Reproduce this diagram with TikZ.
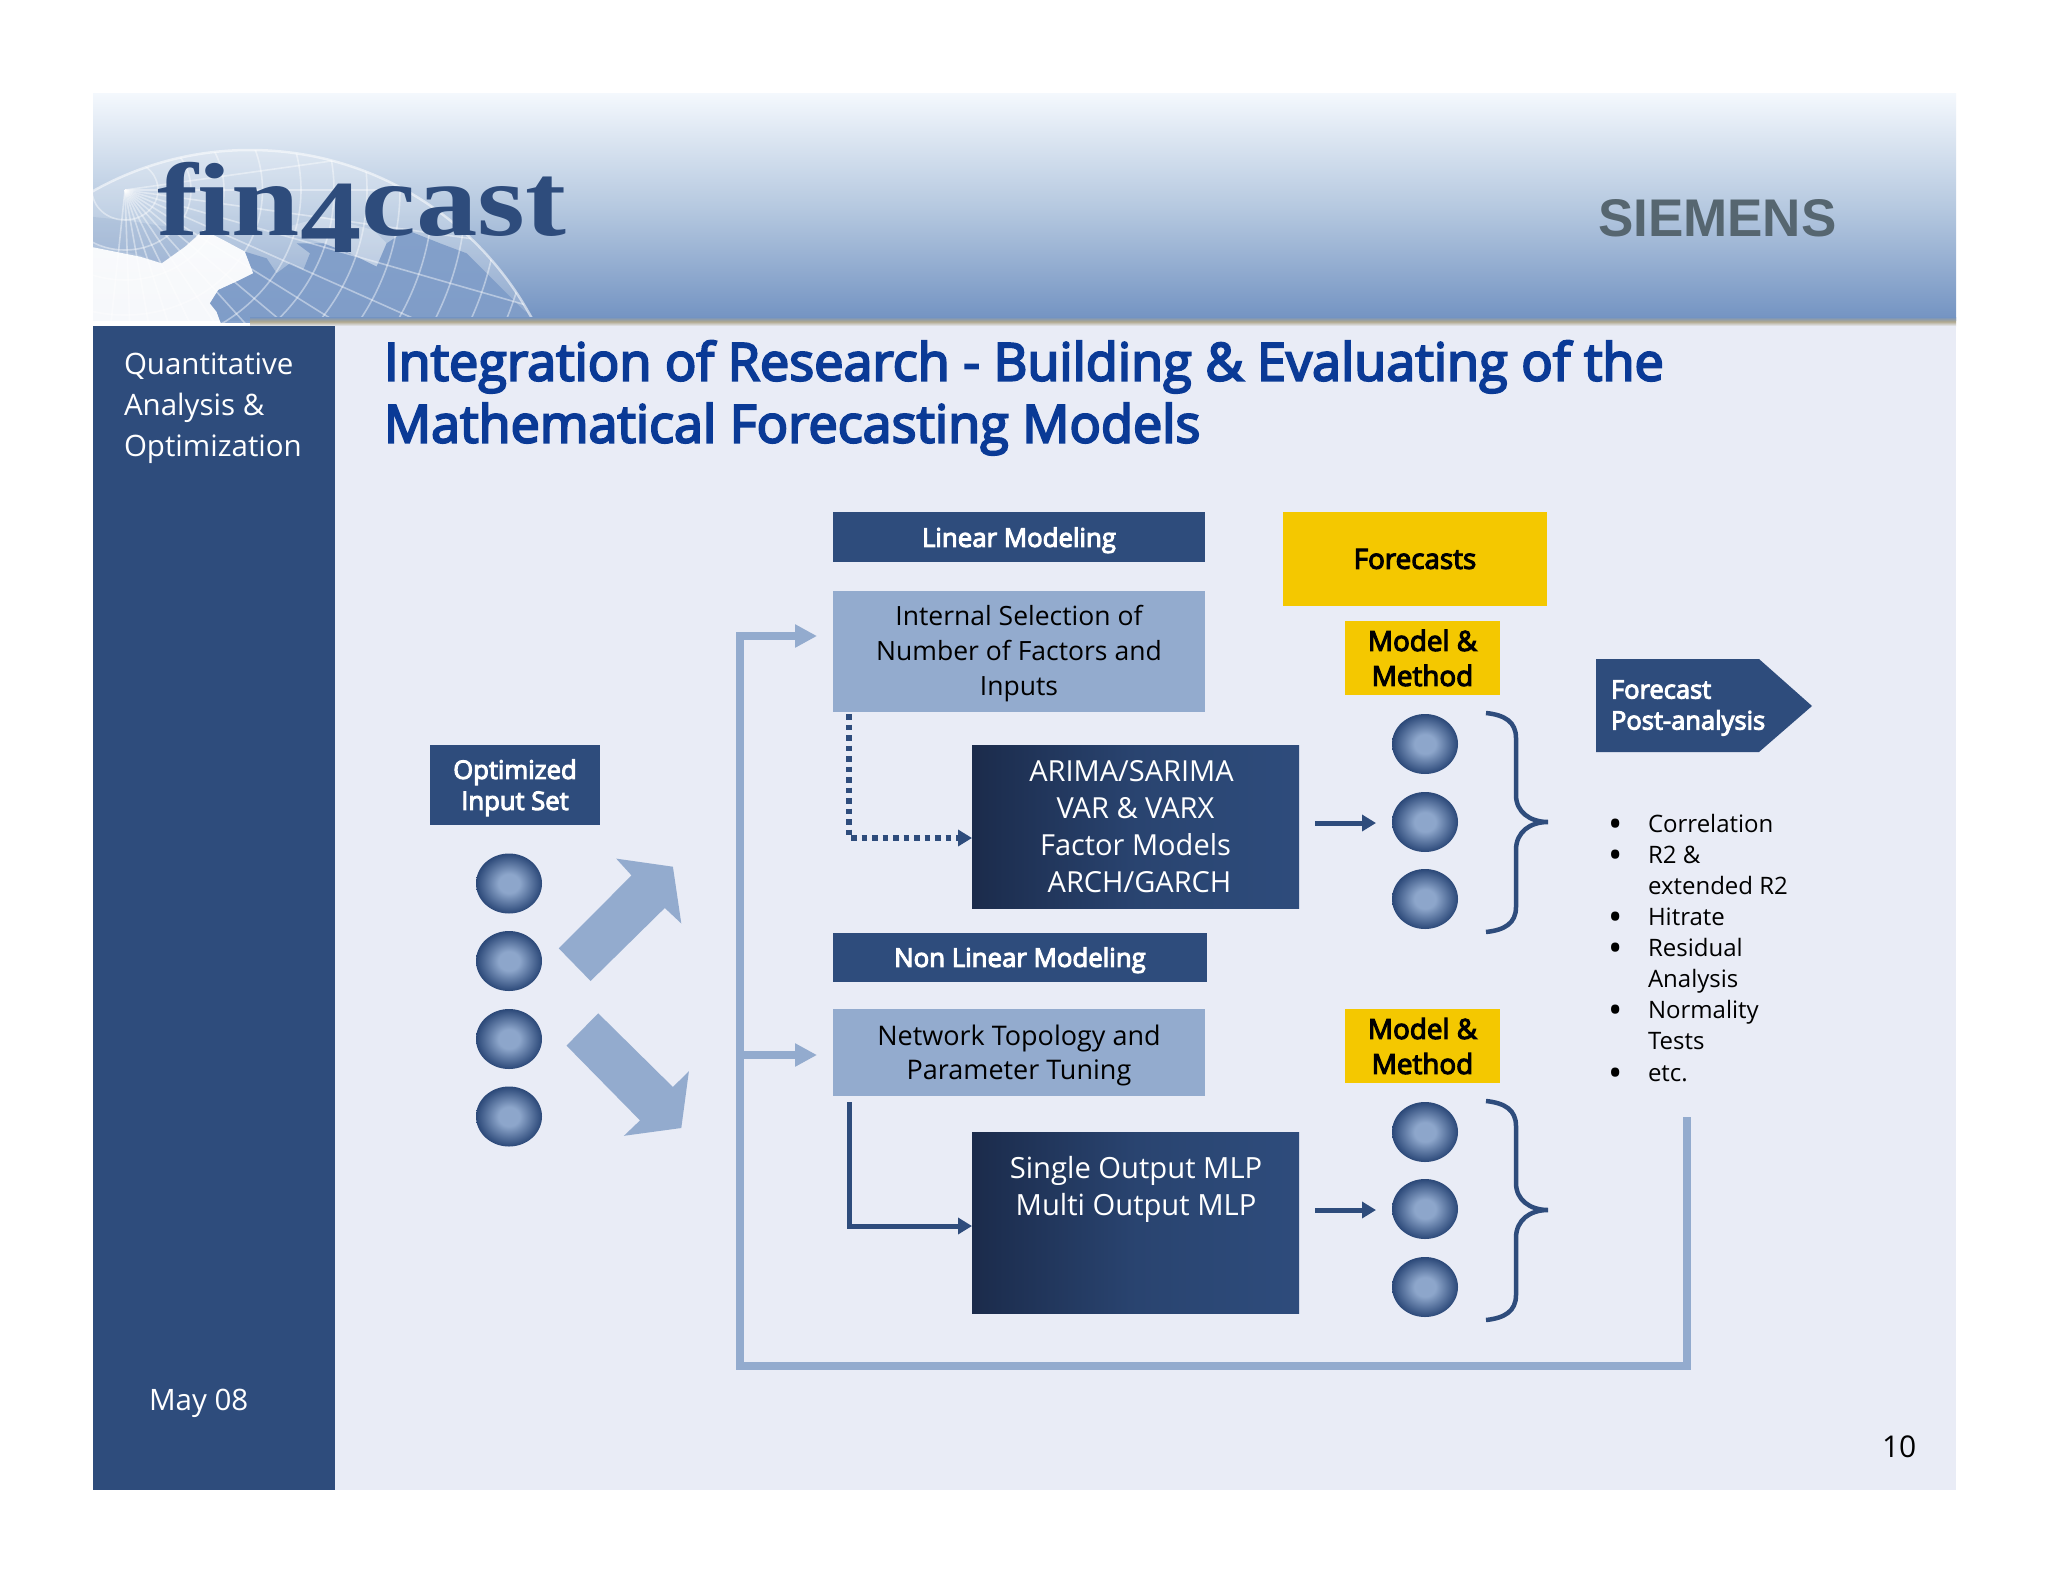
\documentclass[tikz,border=0pt]{standalone}
\usepackage{fontspec}
\setmainfont{Open Sans}
\newfontfamily\semifont[FakeBold=4]{Open Sans}
\newfontfamily\logofont{Liberation Serif}
\newfontfamily\brandfont{Liberation Sans}
\usetikzlibrary{arrows.meta,shapes.geometric,calc}
\definecolor{navy}{HTML}{2E4C7C}
\definecolor{darknavy}{HTML}{1B2B4B}
\definecolor{steel}{HTML}{93ABCE}
\definecolor{pagebg}{HTML}{E9ECF6}
\definecolor{gold}{HTML}{F4C800}
\definecolor{titleblue}{HTML}{0A3A96}
\definecolor{ballin}{HTML}{8DA6CB}
\definecolor{ballout}{HTML}{2B4878}
\definecolor{banTop}{HTML}{F4F8FD}
\definecolor{banMid}{HTML}{B6C9E0}
\definecolor{banBot}{HTML}{7393C2}
\definecolor{landblue}{HTML}{7E9CC8}
\definecolor{brandgray}{HTML}{566670}
\definecolor{tan}{HTML}{B0A88E}
\pgfdeclareradialshading{ballshade}{\pgfpoint{0bp}{0bp}}{color(0bp)=(ballin); color(8bp)=(ballin); color(25bp)=(ballout); color(50bp)=(ballout)}
\newcommand{\sk}[1]{\rule{0pt}{#1pt}}
\tikzset{
  x=1pt,y=-1pt,
  plain/.style={inner sep=0pt,outer sep=0pt,align=center},
  navybox/.style={plain,rectangle,fill=navy,text=white,font=\semifont\fontsize{25.8}{31}\selectfont},
  steelbox/.style={plain,rectangle,fill=steel,text=black},
  darkbox/.style={plain,rectangle,left color=darknavy,right color=navy,text=white,middle color=navy!75!darknavy},
  goldbox/.style={plain,rectangle,fill=gold,text=black,font=\semifont\fontsize{27.8}{35}\selectfont},
  ball/.style={ellipse,inner sep=0pt,outer sep=0pt,minimum width=66pt,minimum height=60pt,shading=ballshade},
  bigarrow/.style={fill=steel},
  feedback/.style={draw=steel,line width=8pt,line join=miter},
  feedtip/.style={-{Triangle[length=22pt,width=22pt]},shorten >=16pt},
  thinarrow/.style={draw=navy,line width=5pt,-{Triangle[length=14pt,width=16pt]}},
  dottedlink/.style={thinarrow,line width=5.5pt,dash pattern=on 5.5pt off 5pt},
  brace/.style={draw=navy,line width=4.5pt,line cap=butt},
  listtext/.style={plain,anchor=base west,align=left,font=\fontsize{24}{31}\selectfont,text=black},
  listbullet/.style={plain,anchor=base,font=\fontsize{38}{38}\selectfont,text=black},
  sidetext/.style={plain,text=white,anchor=base west,font=\fontsize{29.5}{41}\selectfont},
  titletext/.style={plain,anchor=base west,align=left,text=titleblue,font=\semifont\fontsize{52.2}{62}\selectfont},
}
\begin{document}
\begin{tikzpicture}
\useasboundingbox (0,0) rectangle (2048,1582);
\fill[white] (0,0) rectangle (2048,1582);
% banner
\fill[top color=banTop,bottom color=banBot,middle color=banMid] (93,93) rectangle (1956,320);
\begin{scope}
 \clip (93,93) rectangle (1956,322);
 \fill[white,opacity=.2] (250,470) circle[radius=320pt];
 \begin{scope}[shift={(90,130)},x=.3333pt,y=-.3333pt]
  \fill[white,opacity=.92] (0,350) -- (150,380) -- (215,400) -- (285,350) -- (340,300) -- (400,330) -- (465,365) -- (490,430) -- (450,450) -- (385,480) -- (360,520) -- (380,545) -- (400,600) -- (0,600) -- cycle;
  \fill[white,opacity=.25] (560,300) -- (700,340) -- (860,410) -- (890,340) -- (850,300) -- (700,260) -- cycle;
  \fill[landblue,opacity=.9] (360,520) -- (385,480) -- (450,450) -- (490,430) -- (465,365) -- (530,385) -- (560,430) -- (600,400) -- (640,420) -- (660,370) -- (620,340) -- (700,340) -- (780,370) -- (860,410) -- (890,340) -- (950,300) -- (1050,340) -- (1130,370) -- (1200,440) -- (1300,540) -- (1350,575) -- (1350,600) -- (400,600) -- (380,545) -- cycle;
  \fill[steel,opacity=.3] (0,340) -- (150,375) -- (215,400) -- (285,350) -- (320,320) -- (230,290) -- (100,270) -- (0,260) -- cycle;
 \end{scope}
 \begin{scope}
  \clip (250,470) circle[radius=320pt];
  \foreach \r in {30,60,90,125,160,190,220,250,280,310,340,370,400}
    \draw[white,opacity=.42,line width=1.6pt] (125,190) circle[x radius=1.1*\r pt,y radius=\r pt];
  \foreach \a in {-8,0,...,96}
    \draw[white,opacity=.42,line width=1.6pt] (125,190) -- ++({\a}:520);
 \end{scope}
 \draw[white,opacity=.55,line width=2.5pt] (250,470) circle[radius=320pt];
\end{scope}
% panel
\fill[pagebg] (93,326) rectangle (1956,1490);
\fill[top color=banBot,bottom color=pagebg,middle color=tan] (250,317) rectangle (1956,326);
\fill[navy] (93,326) rectangle (335,1490);
% logo & brand
\node[plain,anchor=base west,text=navy,xscale=1.18,font=\logofont\bfseries\fontsize{104}{104}\selectfont] (logo) at (157,235) {fin\raisebox{-17pt}{4}cast};
\node[plain,anchor=base west,text=brandgray,font=\brandfont\bfseries\fontsize{53}{53}\selectfont] (brand) at (1598,236) {SIEMENS};
% side texts
\node[sidetext,align=left,anchor=north west] (side) at (124,353) {Quantitative\\Analysis \&\\Optimization};
\node[sidetext] (date) at (149,1410) {May 08};
\node[plain,anchor=base west,font=\fontsize{30}{30}\selectfont] (pageno) at (1882,1457) {10};
% title
\node[titletext] (title) at (384,380.5) {Integration of Research - Building \& Evaluating of the};
\node[titletext] (title2) at (384,442.5) {Mathematical Forecasting Models};
% boxes
\node[navybox,minimum width=372pt,minimum height=50pt] (linear) at (1019,537) {\sk{26}Linear Modeling};
\node[steelbox,minimum width=372pt,minimum height=121pt,font=\fontsize{26.5}{35}\selectfont] (internal) at (1019,651) {\sk{26}Internal Selection of\\Number of Factors and\\Inputs};
\node[darkbox,minimum width=327pt,minimum height=163pt,font=\fontsize{29}{37}\selectfont] (arima) at (1135.5,826.5) {ARIMA/SARIMA\kern8pt\\VAR \& VARX\\Factor Models\\\kern8pt ARCH/GARCH};
\node[navybox,minimum width=374pt,minimum height=49pt] (nonlinear) at (1020,957) {\sk{26}Non Linear Modeling};
\node[steelbox,minimum width=372pt,minimum height=87pt,font=\fontsize{27}{34}\selectfont] (network) at (1019,1052.5) {\sk{27}Network Topology and\\Parameter Tuning};
\node[darkbox,minimum width=327pt,minimum height=181pt] (single) at (1135.5,1222.5) {};
\node[plain,text=white,font=\fontsize{29.2}{37}\selectfont] (singletext) at (1136,1189) {Single Output MLP\\Multi Output MLP};
\node[navybox,minimum width=170pt,minimum height=80pt,font=\semifont\fontsize{25.6}{31}\selectfont] (optimized) at (515,785) {\sk{25}Optimized\\Input Set};
\node[goldbox,minimum width=264pt,minimum height=94pt] (forecasts) at (1415,559) {Forecasts};
\node[goldbox,minimum width=155pt,minimum height=74pt] (modelA) at (1422.5,658) {Model \&\\Method};
\node[goldbox,minimum width=155pt,minimum height=74.5pt] (modelB) at (1422.5,1046) {Model \&\\Method};
% balls
\foreach \n/\y in {1/883.5,2/961,3/1039,4/1116.5} \node[ball] (in\n) at (509,\y) {};
\foreach \n/\y in {1/744,2/822,3/899} \node[ball] (outA\n) at (1425,\y) {};
\foreach \n/\y in {1/1132,2/1209,3/1287} \node[ball] (outB\n) at (1425,\y) {};
% diagonal arrows
\fill[bigarrow] (558.8,948.4) -- (631.5,875.4) -- (616.2,858.6) -- (672.9,866.7) -- (681.3,923.5) -- (664.8,908) -- (590.6,981) -- cycle;
\fill[bigarrow] (598.2,1013.3) -- (672.9,1087) -- (688.9,1071.2) -- (681.3,1128) -- (623.9,1135.8) -- (640,1120.4) -- (566.5,1045.6) -- cycle;
% feedback
\coordinate (fbTop) at (1687,1117);
\coordinate (fbCorner) at (1687,1366);
\coordinate (fbLeft) at (740,1366);
\coordinate (inA) at ([yshift=15pt]internal.west);
\coordinate (inB) at ([yshift=-2.5pt]network.west);
\draw[feedback,feedtip] (fbTop) -- (fbCorner) -- (fbLeft) |- (inA);
\draw[feedback,feedtip] (fbLeft |- inB) -- (inB);
% links
\coordinate (dotStart) at (849,714);
\coordinate (arimaIn) at ([yshift=-11.5pt]arima.west);
\draw[dottedlink] (dotStart) |- (arimaIn);
\coordinate (solidStart) at (849,1102);
\coordinate (singleIn) at ([yshift=-3.5pt]single.west);
\draw[thinarrow] (solidStart) |- (singleIn);
\draw[thinarrow,shorten <=16pt,shorten >=16pt] ([yshift=-1pt]arima.east |- outA2) -- ([yshift=-1pt]outA2.west);
\draw[thinarrow,shorten <=16pt,shorten >=16pt] ([yshift=-1pt]single.east |- outB2) -- ([yshift=-1pt]outB2.west);
% braces
\draw[brace] (1486,713) .. controls (1505,715) and (1516,722) .. (1516,738) -- (1516,795) .. controls (1516,812) and (1530,822) .. (1548,822) .. controls (1530,822) and (1516,832) .. (1516,850) -- (1516,907) .. controls (1516,923) and (1505,930) .. (1486,932);
\draw[brace] (1486,1101) .. controls (1505,1103) and (1516,1110) .. (1516,1126) -- (1516,1183) .. controls (1516,1200) and (1530,1210) .. (1548,1210) .. controls (1530,1210) and (1516,1220) .. (1516,1238) -- (1516,1295) .. controls (1516,1311) and (1505,1318) .. (1486,1320);
% pentagon
\fill[navy] (1596,659) -- (1759,659) -- (1812,706) -- (1759,752) -- (1596,752) -- cycle;
\node[plain,align=left,anchor=west,text=white,font=\semifont\fontsize{25.5}{31}\selectfont] (post) at (1611,708) {Forecast\\Post-analysis};
% list
\node[listbullet] (b1) at (1615.5,837) {•};
\node[listtext] (l1) at (1648,832) {Correlation};
\node[listbullet] (b2) at (1615.5,868) {•};
\node[listtext] (l2) at (1648,894) {R2 \&\\extended R2};
\node[listbullet] (b3) at (1615.5,930) {•};
\node[listtext] (l3) at (1648,925) {Hitrate};
\node[listbullet] (b4) at (1615.5,961) {•};
\node[listtext] (l4) at (1648,987) {Residual\\Analysis};
\node[listbullet] (b5) at (1615.5,1023) {•};
\node[listtext] (l5) at (1648,1049) {Normality\\Tests};
\node[listbullet] (b6) at (1615.5,1086) {•};
\node[listtext] (l6) at (1648,1081) {etc.};
\end{tikzpicture}
\end{document}
